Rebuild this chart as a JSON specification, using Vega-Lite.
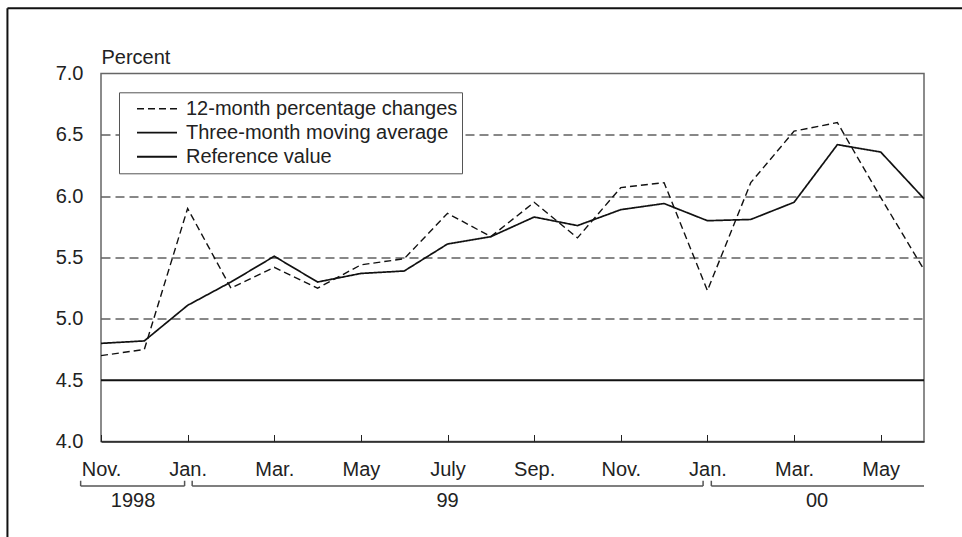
{
  "$schema": "https://vega.github.io/schema/vega-lite/v6.json",
  "width": 823,
  "height": 368,
  "autosize": {"type": "none"},
  "padding": {"left": 101, "top": 73.5, "right": 38, "bottom": 95.5},
  "background": "white",
  "config": {
    "font": "Liberation Sans",
    "view": {"stroke": "#666", "strokeWidth": 1.5},
    "axis": {"labelFont": "Liberation Sans", "titleFont": "Liberation Sans", "labelColor": "#222", "titleColor": "#222"},
    "legend": {"labelFont": "Liberation Sans", "labelColor": "#222"}
  },
  "datasets": {
    "series": [
      {"i": 0, "month": "1998-11", "series": "12-month percentage changes", "value": 4.70},
      {"i": 1, "month": "1998-12", "series": "12-month percentage changes", "value": 4.75},
      {"i": 2, "month": "1999-01", "series": "12-month percentage changes", "value": 5.90},
      {"i": 3, "month": "1999-02", "series": "12-month percentage changes", "value": 5.25},
      {"i": 4, "month": "1999-03", "series": "12-month percentage changes", "value": 5.42},
      {"i": 5, "month": "1999-04", "series": "12-month percentage changes", "value": 5.25},
      {"i": 6, "month": "1999-05", "series": "12-month percentage changes", "value": 5.44},
      {"i": 7, "month": "1999-06", "series": "12-month percentage changes", "value": 5.49},
      {"i": 8, "month": "1999-07", "series": "12-month percentage changes", "value": 5.86},
      {"i": 9, "month": "1999-08", "series": "12-month percentage changes", "value": 5.67},
      {"i": 10, "month": "1999-09", "series": "12-month percentage changes", "value": 5.95},
      {"i": 11, "month": "1999-10", "series": "12-month percentage changes", "value": 5.66},
      {"i": 12, "month": "1999-11", "series": "12-month percentage changes", "value": 6.07},
      {"i": 13, "month": "1999-12", "series": "12-month percentage changes", "value": 6.11},
      {"i": 14, "month": "2000-01", "series": "12-month percentage changes", "value": 5.23},
      {"i": 15, "month": "2000-02", "series": "12-month percentage changes", "value": 6.11},
      {"i": 16, "month": "2000-03", "series": "12-month percentage changes", "value": 6.53},
      {"i": 17, "month": "2000-04", "series": "12-month percentage changes", "value": 6.60},
      {"i": 18, "month": "2000-05", "series": "12-month percentage changes", "value": 5.99},
      {"i": 19, "month": "2000-06", "series": "12-month percentage changes", "value": 5.40},
      {"i": 0, "month": "1998-11", "series": "Three-month moving average", "value": 4.80},
      {"i": 1, "month": "1998-12", "series": "Three-month moving average", "value": 4.82},
      {"i": 2, "month": "1999-01", "series": "Three-month moving average", "value": 5.11},
      {"i": 3, "month": "1999-02", "series": "Three-month moving average", "value": 5.30},
      {"i": 4, "month": "1999-03", "series": "Three-month moving average", "value": 5.51},
      {"i": 5, "month": "1999-04", "series": "Three-month moving average", "value": 5.30},
      {"i": 6, "month": "1999-05", "series": "Three-month moving average", "value": 5.37},
      {"i": 7, "month": "1999-06", "series": "Three-month moving average", "value": 5.39},
      {"i": 8, "month": "1999-07", "series": "Three-month moving average", "value": 5.61},
      {"i": 9, "month": "1999-08", "series": "Three-month moving average", "value": 5.67},
      {"i": 10, "month": "1999-09", "series": "Three-month moving average", "value": 5.83},
      {"i": 11, "month": "1999-10", "series": "Three-month moving average", "value": 5.76},
      {"i": 12, "month": "1999-11", "series": "Three-month moving average", "value": 5.89},
      {"i": 13, "month": "1999-12", "series": "Three-month moving average", "value": 5.94},
      {"i": 14, "month": "2000-01", "series": "Three-month moving average", "value": 5.80},
      {"i": 15, "month": "2000-02", "series": "Three-month moving average", "value": 5.81},
      {"i": 16, "month": "2000-03", "series": "Three-month moving average", "value": 5.95},
      {"i": 17, "month": "2000-04", "series": "Three-month moving average", "value": 6.42},
      {"i": 18, "month": "2000-05", "series": "Three-month moving average", "value": 6.36},
      {"i": 19, "month": "2000-06", "series": "Three-month moving average", "value": 5.98},
      {"i": 0, "month": "1998-11", "series": "Reference value", "value": 4.5},
      {"i": 19, "month": "2000-06", "series": "Reference value", "value": 4.5}
    ],
    "years": [
      {"year": "1998", "start": -0.47, "end": 1.93, "mid": 0.74},
      {"year": "99", "start": 2.105, "end": 13.9, "mid": 8.0},
      {"year": "00", "start": 14.09, "end": 19.0, "mid": 16.53}
    ],
    "yearTicks": [
      {"at": -0.47}, {"at": 1.93}, {"at": 2.105}, {"at": 13.9}, {"at": 14.09}
    ]
  },
  "layer": [
    {
      "data": {"name": "series"},
      "mark": {"type": "line", "color": "#111", "strokeCap": "butt", "strokeJoin": "miter"},
      "encoding": {
        "x": {
          "field": "i", "type": "quantitative",
          "scale": {"domain": [0, 19], "nice": false, "zero": false},
          "axis": {
            "orient": "bottom", "title": null, "grid": false,
            "values": [0, 2, 4, 6, 8, 10, 12, 14, 16, 18],
            "labelExpr": "['Nov.','Dec.','Jan.','Feb.','Mar.','Apr.','May','June','July','Aug.','Sep.','Oct.'][datum.value % 12]",
            "labelFontSize": 20, "labelPadding": 25,
            "domainColor": "#222", "domainWidth": 1.5,
            "tickColor": "#222", "tickWidth": 1, "tickSize": -7,
            "labelFlush": false
          }
        },
        "y": {
          "field": "value", "type": "quantitative",
          "scale": {"domain": [4, 7], "nice": false, "zero": false},
          "axis": {
            "values": [4, 4.5, 5, 5.5, 6, 6.5, 7],
            "format": ".1f",
            "labelFontSize": 20, "labelPadding": 18,
            "ticks": false, "domain": false,
            "grid": true, "gridColor": "#111", "gridWidth": 1, "gridDash": [9, 5],
            "gridOpacity": {"condition": {"test": "datum.value == 4 || datum.value == 4.5 || datum.value == 7", "value": 0}, "value": 1},
            "title": "Percent", "titleAngle": 0, "titleX": 0, "titleY": -10.5,
            "titleAlign": "left", "titleBaseline": "alphabetic",
            "titleFontSize": 20, "titleFontWeight": "normal"
          }
        },
        "strokeDash": {
          "field": "series", "type": "nominal",
          "scale": {"domain": ["12-month percentage changes", "Three-month moving average", "Reference value"], "range": [[7, 4], [1, 0], [1, 0]]},
          "legend": {
            "orient": "none", "legendX": 18, "legendY": 18.8, "title": null,
            "strokeColor": "#555", "fillColor": "white", "padding": 4.5,
            "symbolType": "stroke", "symbolSize": 1600, "symbolStrokeColor": "#111",
            "labelFontSize": 20, "labelLimit": 600, "rowPadding": 0, "clipHeight": 23.8,
            "symbolOffset": 12.5, "labelOffset": 8
          }
        },
        "strokeWidth": {
          "field": "series", "type": "nominal",
          "scale": {"domain": ["12-month percentage changes", "Three-month moving average", "Reference value"], "range": [1.4, 2, 3.2]}
        }
      }
    },
    {
      "data": {"name": "years"},
      "mark": {"type": "rule", "color": "#555", "strokeWidth": 1.5},
      "encoding": {
        "x": {"field": "start", "type": "quantitative"},
        "x2": {"field": "end"},
        "y": {"datum": 3.637}
      }
    },
    {
      "data": {"name": "yearTicks"},
      "mark": {"type": "rule", "color": "#555", "strokeWidth": 1.5},
      "encoding": {
        "x": {"field": "at", "type": "quantitative"},
        "y": {"datum": 3.637},
        "y2": {"datum": 3.68}
      }
    },
    {
      "data": {"name": "years"},
      "mark": {"type": "text", "fontSize": 20, "color": "#222", "baseline": "alphabetic", "align": "center"},
      "encoding": {
        "x": {"field": "mid", "type": "quantitative"},
        "y": {"datum": 3.466},
        "text": {"field": "year"}
      }
    },
    {
      "data": {"values": [{"edge": "top"}]},
      "mark": {"type": "rule", "color": "#111", "strokeWidth": 2},
      "encoding": {
        "x": {"datum": -2.16},
        "x2": {"datum": 19.9},
        "y": {"datum": 7.531}
      }
    },
    {
      "data": {"values": [{"edge": "left"}]},
      "mark": {"type": "rule", "color": "#111", "strokeWidth": 2},
      "encoding": {
        "x": {"datum": -2.16},
        "y": {"datum": 3.1},
        "y2": {"datum": 7.531}
      }
    }
  ]
}
